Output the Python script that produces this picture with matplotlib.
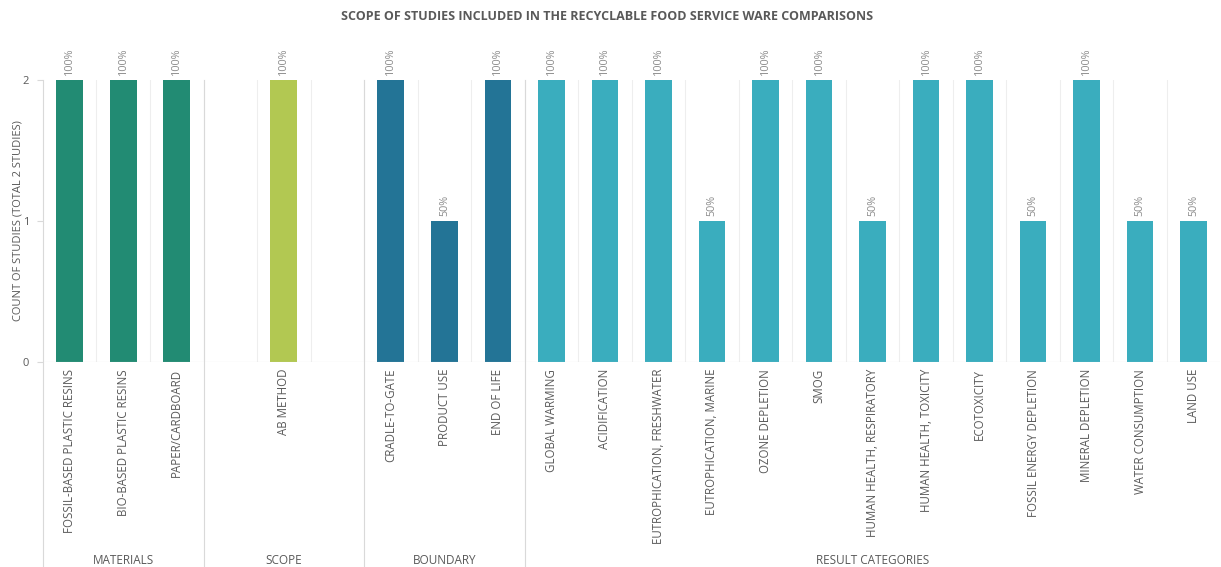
import numpy as np
import matplotlib.pyplot as plt
import matplotlib.transforms as mtransforms

plt.rcParams['font.family'] = ['Open Sans', 'DejaVu Sans']

categorias = ["FOSSIL-BASED PLASTIC RESINS", "BIO-BASED PLASTIC RESINS", "PAPER/CARDBOARD",
              "", "AB METHOD", "",
              "CRADLE-TO-GATE", "PRODUCT USE", "END OF LIFE",
              "GLOBAL WARMING", "ACIDIFICATION", "EUTROPHICATION, FRESHWATER",
              "EUTROPHICATION, MARINE", "OZONE DEPLETION", "SMOG",
              "HUMAN HEALTH, RESPIRATORY", "HUMAN HEALTH, TOXICITY", "ECOTOXICITY",
              "FOSSIL ENERGY DEPLETION", "MINERAL DEPLETION", "WATER CONSUMPTION", "LAND USE"]
valores = [2, 2, 2,
           np.nan, 2, np.nan,
           2, 1, 2,
           2, 2, 2, 1, 2, 2, 1, 2, 2, 1, 2, 1, 1]
grupos = ["MATERIALS", "SCOPE", "BOUNDARY", "RESULT CATEGORIES"]
tam_grupos = [3, 3, 3, 13]
colores_grupos = ["#228b73", "#b2c852", "#237496", "#3aadbe"]
total_estudios = 2

fig = plt.figure(figsize=(12.21, 5.67), dpi=100)
ax = fig.add_axes([0.0352, 0.3616, 0.9643, 0.4973])

x = np.arange(len(categorias))
colores = []
for c, n in zip(colores_grupos, tam_grupos):
    colores += [c] * n

ax.bar(x, np.nan_to_num(valores), width=0.5, color=colores, zorder=3)

for xi, v in zip(x, valores):
    if np.isnan(v):
        continue
    ax.text(xi, v + 0.035, f"{v / total_estudios * 100:.0f}%", rotation=90,
            ha='center', va='bottom', fontsize=7.8, color='#8c8c8c')

ax.set_xlim(-0.5, len(categorias) - 0.5)
ax.set_ylim(0, 2)
ax.set_yticks([0, 1, 2])
ax.set_xticks(x)
ax.set_xticklabels(categorias, rotation=90, fontsize=8.3, color='#595959', va='top')
ax.tick_params(axis='x', length=0, pad=5)
ax.tick_params(axis='y', length=4, color='#d9d9d9', labelsize=8, labelcolor='#595959', pad=6)

# lineas verticales finas entre categorias
for xi in x[:-1]:
    ax.axvline(xi + 0.5, color='#eeeeee', lw=0.8, zorder=1)
ax.axhline(0, color='#d9d9d9', lw=0.8, zorder=4)

for s in ['top', 'right', 'bottom', 'left']:
    ax.spines[s].set_visible(False)

# separadores de grupos y etiquetas de grupo
trans = mtransforms.blended_transform_factory(ax.transData, fig.transFigure)
bordes = np.cumsum([0] + tam_grupos) - 0.5
for b in bordes[:-1]:
    ax.plot([b, b], [0, 0.859], color='#d9d9d9', lw=0.8, transform=trans, clip_on=False, zorder=5)
for i, g in enumerate(grupos):
    centro = (bordes[i] + bordes[i + 1]) / 2
    fig.text(centro, 0.011, g, transform=trans, ha='center', va='center',
             fontsize=8.5, color='#595959')

fig.text(0.015, 0.611, "COUNT OF STUDIES (TOTAL 2 STUDIES)", rotation=90,
         ha='center', va='center', fontsize=8, color='#595959')
fig.suptitle("SCOPE OF STUDIES INCLUDED IN THE RECYCLABLE FOOD SERVICE WARE COMPARISONS",
             x=0.497, y=0.983, va='top', fontsize=9, fontweight='bold', color='#595959')

plt.savefig("out.png", dpi=100)
